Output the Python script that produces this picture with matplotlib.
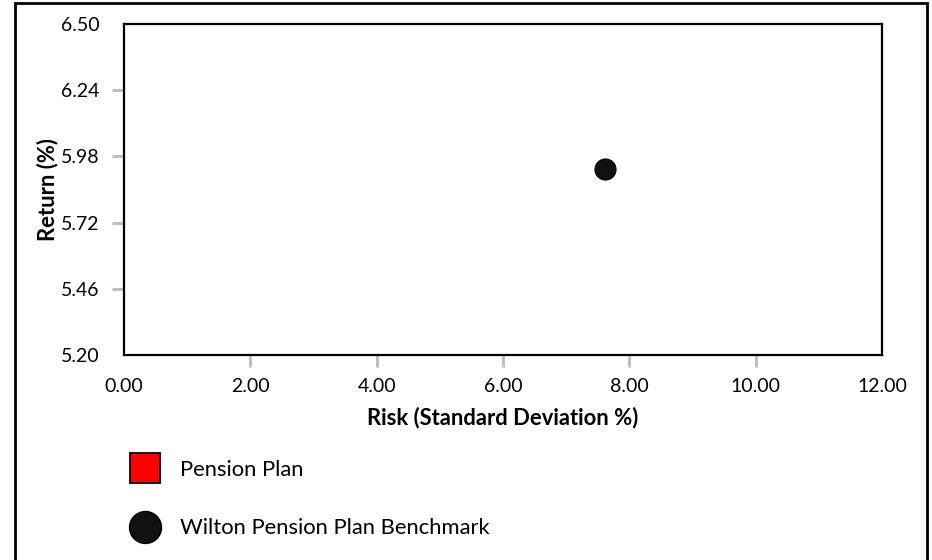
import matplotlib.pyplot as plt
from matplotlib.lines import Line2D
from matplotlib.patches import Rectangle

# risk / return values
plan_risk = []
plan_return = []
bench_risk = [7.62]
bench_return = [5.93]

x_ticks = [0.0, 2.0, 4.0, 6.0, 8.0, 10.0, 12.0]
y_ticks = [5.20, 5.46, 5.72, 5.98, 6.24, 6.50]

plt.rcParams['font.family'] = ['Lato', 'DejaVu Sans']

W, H = 932, 560
fig = plt.figure(figsize=(W / 100, H / 100), dpi=100)
ax = fig.add_axes([124 / W, 1 - 355 / H, (882 - 124) / W, (355 - 24) / H])

ax.scatter(plan_risk, plan_return, marker='s', s=230, color='#ff0000',
           edgecolor='black', linewidth=1.2, label='Pension Plan', zorder=3)
ax.scatter(bench_risk, bench_return, marker='o', s=230, color='#111111',
           edgecolor='black', linewidth=0.8, label='Wilton Pension Plan Benchmark', zorder=3)

ax.set_xlim(0, 12)
ax.set_ylim(5.20, 6.50)
ax.set_xticks(x_ticks)
ax.set_yticks(y_ticks)
ax.set_xticklabels([f'{v:.2f}' for v in x_ticks])
ax.set_yticklabels([f'{v:.2f}' for v in y_ticks])

for s in ax.spines.values():
    s.set_linewidth(1.6)
    s.set_color('black')

ax.tick_params(axis='both', length=8.6, width=2.2, color='#c0c0c0',
               labelsize=14, labelcolor='black')
ax.tick_params(axis='y', pad=9)
ax.tick_params(axis='x', pad=8)

# no gray marks at the axis ends
for t in (ax.xaxis.get_major_ticks()[0], ax.xaxis.get_major_ticks()[-1],
          ax.yaxis.get_major_ticks()[0], ax.yaxis.get_major_ticks()[-1]):
    t.tick1line.set_visible(False)

ax.set_xlabel('Risk (Standard Deviation %)', fontsize=15.8, fontweight='bold', labelpad=8)
ax.set_ylabel('Return (%)', fontsize=15.8, fontweight='bold', labelpad=2)

handles = [
    Line2D([], [], marker='s', linestyle='none', markersize=22,
           markerfacecolor='#ff0000', markeredgecolor='black', markeredgewidth=1.3),
    Line2D([], [], marker='o', linestyle='none', markersize=23,
           markerfacecolor='#111111', markeredgecolor='black'),
]
fig.legend(handles, ['Pension Plan', 'Wilton Pension Plan Benchmark'],
           loc='upper left', bbox_to_anchor=(116.5 / W, 1 - 449 / H),
           frameon=False, fontsize=15.8, labelspacing=1.75, handletextpad=0.8,
           handlelength=1.6, borderpad=0)

# outer frame around the whole chart
fig.add_artist(Rectangle((15 / W, -0.01), (927 - 15) / W, 1.01 - 3 / H,
                         transform=fig.transFigure, fill=False,
                         edgecolor='black', linewidth=2))

fig.savefig('out.png', dpi=100)
